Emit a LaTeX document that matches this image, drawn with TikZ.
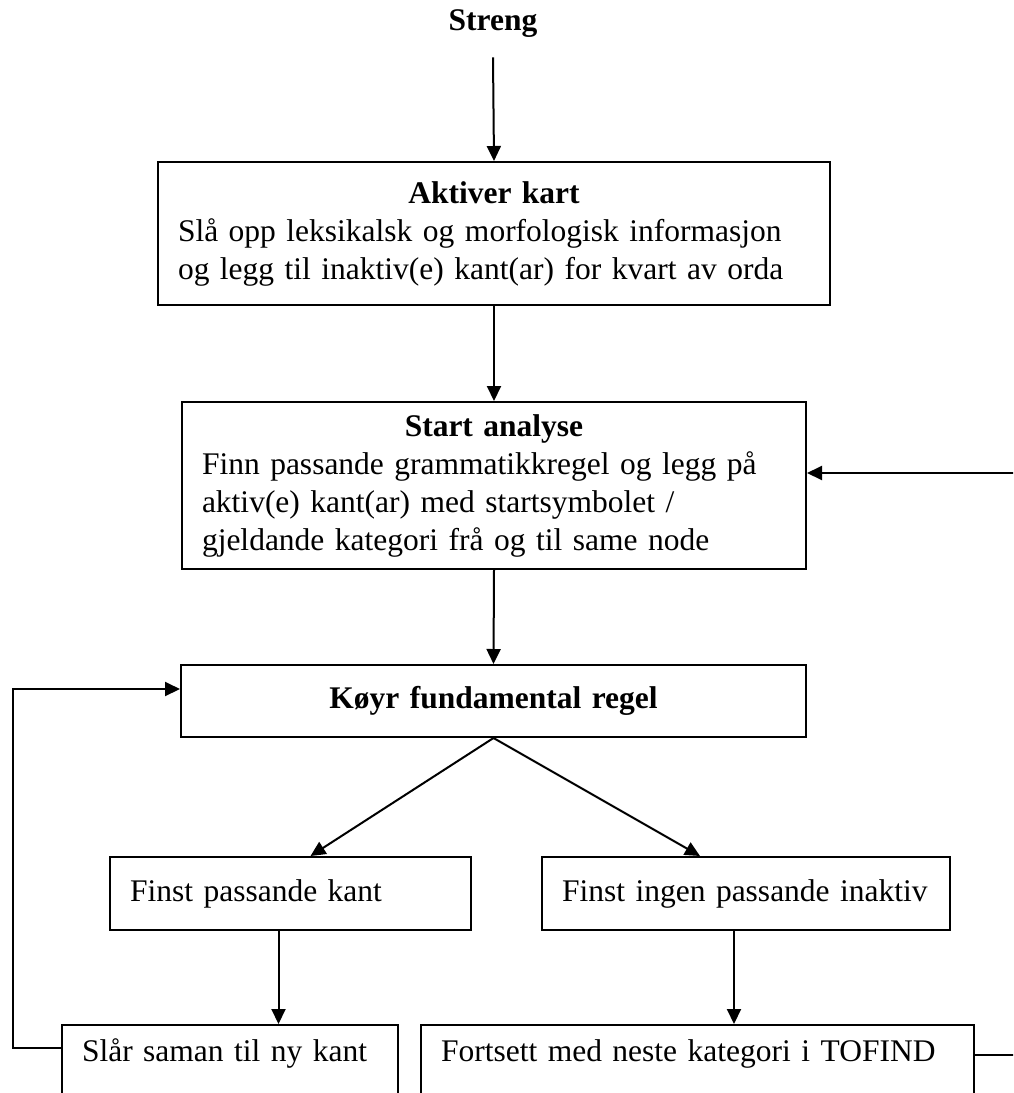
\documentclass[tikz,border=0pt]{standalone}
\usepackage{fontspec}
\setmainfont{Liberation Serif}
\usetikzlibrary{arrows.meta,positioning}

\begin{document}
\begin{tikzpicture}[
  x=1pt, y=-1pt,
  font=\fontsize{31.5}{38}\selectfont,
  stepbox/.style={draw, line width=2pt, anchor=north west, inner xsep=20pt,
                  inner ysep=0pt, align=left},
  cutbox/.style={stepbox, text height=22pt, text depth=48pt, inner ysep=14pt},
  arrow/.style={-{Triangle[length=15pt, width=14pt]}, line width=2pt},
  link/.style={line width=2pt}
]
  \useasboundingbox (0,0) rectangle (1013,1093);
  \clip (0,0) rectangle (1013,1093);

  \node[font=\fontsize{31.5}{38}\selectfont\bfseries] (streng) at (493,24) {Streng};

  \node[stepbox, text width=632pt, minimum height=143pt] (aktiver) at (157,161)
    {{\centering\bfseries Aktiver kart\par}%
     Slå opp leksikalsk og morfologisk informasjon\\
     og legg til inaktiv(e) kant(ar) for kvart av orda};
  \node[stepbox, text width=584pt, minimum height=167pt] (start) at (181,401)
    {{\centering\bfseries Start analyse\par}%
     Finn passande grammatikkregel og legg på\\
     aktiv(e) kant(ar) med startsymbolet /\\
     gjeldande kategori frå og til same node};
  \node[stepbox, text width=585pt, minimum height=72pt, align=center] (koeyr) at (180,664)
    {\bfseries Køyr fundamental regel};

  \node[stepbox, text width=321pt, minimum height=73pt] (passande) at (109,856)
    {\mbox{Finst passande kant}};
  \node[stepbox, text width=368pt, minimum height=73pt] (ingen) at (541,856)
    {\mbox{Finst ingen passande inaktiv}};

  \node[cutbox, text width=296pt] (slaar) at (61,1024) {\mbox{Slår saman til ny kant}};
  \node[cutbox, text width=513pt] (fortsett) at (420,1024)
    {\mbox{Fortsett med neste kategori i TOFIND}};

  \draw[arrow] ([yshift=-16pt]streng.south) -- (aktiver.north);
  \draw[arrow] (aktiver.south) -- (start.north);
  \draw[arrow] (start.south) -- (koeyr.north);
  \draw[arrow] (koeyr.south) -- ([xshift=20pt]passande.north);
  \draw[arrow] (koeyr.south) -- ([xshift=-46pt]ingen.north);
  \draw[arrow] ([xshift=-12pt]passande.south) -- ([xshift=-12pt]passande.south |- slaar.north);
  \draw[arrow] ([xshift=-12pt]ingen.south) -- ([xshift=-12pt]ingen.south |- fortsett.north);

  % tilbake til start / fundamental regel
  \draw[arrow] ([yshift=-24pt]slaar.north west) -- ++(-48,0) |- ([yshift=12pt]koeyr.west);
  \draw[arrow] ([yshift=-31pt]fortsett.north east) -- ++(45,0) |- ([yshift=12.5pt]start.east);
\end{tikzpicture}
\end{document}
